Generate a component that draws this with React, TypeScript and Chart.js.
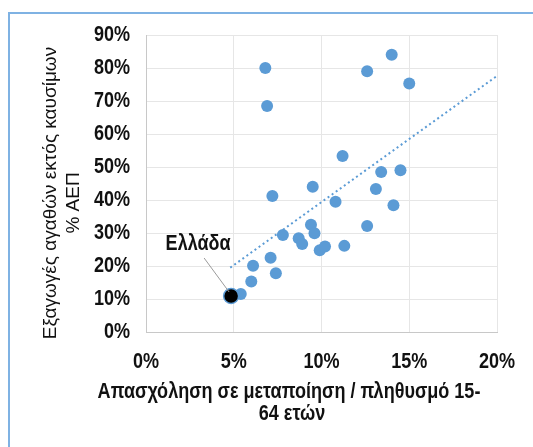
import React, { useEffect, useRef } from "react";
import { Chart, registerables } from "chart.js";

Chart.register(...registerables);

// Employment in manufacturing / population 15-64 (%) vs non-fuel goods exports (% GDP)
const countryX = [6.8, 6.9, 14.0, 12.6, 15.0, 11.2, 13.4, 14.5, 9.5, 13.1, 7.2, 10.8, 14.1, 9.4, 12.6, 9.6, 7.8, 8.7, 8.9, 9.9, 10.2, 11.3, 6.1, 7.1, 7.4, 6.0, 5.4];
const countryY = [80, 68.5, 84, 79, 75.3, 53.3, 48.5, 49, 44, 43.3, 41.2, 39.5, 38.4, 32.5, 32.1, 29.9, 29.4, 28.4, 26.7, 24.8, 25.9, 26.1, 20.1, 22.5, 17.8, 15.3, 11.5];
const greeceX = [4.85];
const greeceY = [10.9];
const greeceLabel = "Ελλάδα";
const trendX = [4.8, 20];
const trendY = [19.5, 77.6];
const xTicks = [0, 5, 10, 15, 20];
const yTicks = [0, 10, 20, 30, 40, 50, 60, 70, 80, 90];
const yTitle = ["Εξαγωγές αγαθών εκτός καυσίμων", "% ΑΕΠ"];
const xTitle = ["Απασχόληση σε μεταποίηση / πληθυσμό 15-", "64 ετών"];

const FONT = '"Liberation Sans", Arial, sans-serif';
const BLUE = "#5B9BD5";
const SQUEEZE = 0.82;

function condensed(ctx: CanvasRenderingContext2D, text: string, x: number, y: number, size: number, align: CanvasTextAlign) {
  ctx.save();
  ctx.font = `bold ${size}px ${FONT}`;
  ctx.textAlign = align;
  ctx.textBaseline = "middle";
  ctx.translate(x, y);
  ctx.scale(SQUEEZE, 1);
  ctx.fillText(text, 0, 0);
  ctx.restore();
}

export default function App() {
  const ref = useRef<HTMLCanvasElement>(null);
  useEffect(() => {
    if (!ref.current) return;
    const overlay = {
      id: "overlay",
      afterDraw(chart: any) {
        const ctx = chart.ctx;
        const xs = chart.scales.x;
        const ys = chart.scales.y;
        ctx.save();
        ctx.fillStyle = "#111";
        // tick labels
        yTicks.forEach((v) => condensed(ctx, v + "%", 130, ys.getPixelForValue(v), 22, "right"));
        xTicks.forEach((v) => condensed(ctx, v + "%", xs.getPixelForValue(v), 362, 22, "center"));
        // y title
        ctx.textAlign = "center";
        ctx.textBaseline = "middle";
        ctx.save();
        ctx.font = `normal 19px ${FONT}`;
        ctx.translate(51, 193);
        ctx.rotate(-Math.PI / 2);
        ctx.fillText(yTitle[0], 0, 0);
        ctx.restore();
        ctx.save();
        ctx.font = `normal 19px ${FONT}`;
        ctx.translate(74, 203);
        ctx.rotate(-Math.PI / 2);
        ctx.fillText(yTitle[1], 0, 0);
        ctx.restore();
        // x title
        condensed(ctx, xTitle[0], 289, 392, 22, "center");
        condensed(ctx, xTitle[1], 292, 414, 22, "center");
        // annotation
        const pt = chart.getDatasetMeta(0).data[0];
        const px = pt.x, py = pt.y;
        ctx.strokeStyle = "#9a9a9a";
        ctx.lineWidth = 1;
        ctx.beginPath();
        ctx.moveTo(px - 27, py - 38);
        ctx.lineTo(px - 2, py - 4);
        ctx.stroke();
        condensed(ctx, greeceLabel, px - 33, py - 52, 22, "center");
        ctx.restore();
      },
    };
    const chart = new Chart(ref.current, {
      type: "scatter",
      data: {
        datasets: [
          {
            label: "greece",
            data: greeceX.map((x, i) => ({ x, y: greeceY[i] })),
            backgroundColor: "#000",
            borderColor: BLUE,
            borderWidth: 1.5,
            pointRadius: 7.5,
          },
          {
            label: "countries",
            data: countryX.map((x, i) => ({ x, y: countryY[i] })),
            backgroundColor: BLUE,
            borderColor: BLUE,
            borderWidth: 0,
            pointRadius: 6,
          },
          {
            label: "trend",
            type: "line",
            data: trendX.map((x, i) => ({ x, y: trendY[i] })),
            borderColor: BLUE,
            borderWidth: 2,
            borderDash: [2, 3],
            pointRadius: 0,
            showLine: true,
            fill: false,
          } as any,
        ],
      },
      options: {
        animation: false,
        responsive: true,
        maintainAspectRatio: false,
        layout: { padding: { top: 35, right: 36, left: 0, bottom: 0 } },
        plugins: { legend: { display: false }, tooltip: { enabled: false } },
        scales: {
          x: {
            type: "linear",
            min: 0,
            max: 20,
            afterBuildTicks: (s: any) => {
              s.ticks = xTicks.map((v) => ({ value: v }));
            },
            afterFit: (s: any) => {
              s.height = 115;
            },
            ticks: { display: false },
            grid: { color: "#e6e6e6", drawTicks: false },
            border: { color: "#c8c8c8" },
          },
          y: {
            type: "linear",
            min: 0,
            max: 90,
            afterBuildTicks: (s: any) => {
              s.ticks = yTicks.map((v) => ({ value: v }));
            },
            afterFit: (s: any) => {
              s.width = 146;
            },
            ticks: { display: false },
            grid: { color: "#e6e6e6", drawTicks: false },
            border: { color: "#c8c8c8" },
          },
        },
      },
      plugins: [overlay],
    });
    return () => chart.destroy();
  }, []);
  return (
    <div style={{ position: "fixed", left: 0, top: 0, width: 533, height: 447, background: "#fff", overflow: "hidden" }}>
      <div
        style={{
          position: "absolute",
          left: 8,
          top: 12,
          width: 560,
          height: 470,
          borderLeft: "2px solid #7fb2e3",
          borderTop: "2px solid #7fb2e3",
        }}
      />
      <div style={{ position: "absolute", left: 0, top: 0, width: 533, height: 447 }}>
        <canvas ref={ref} />
      </div>
    </div>
  );
}
